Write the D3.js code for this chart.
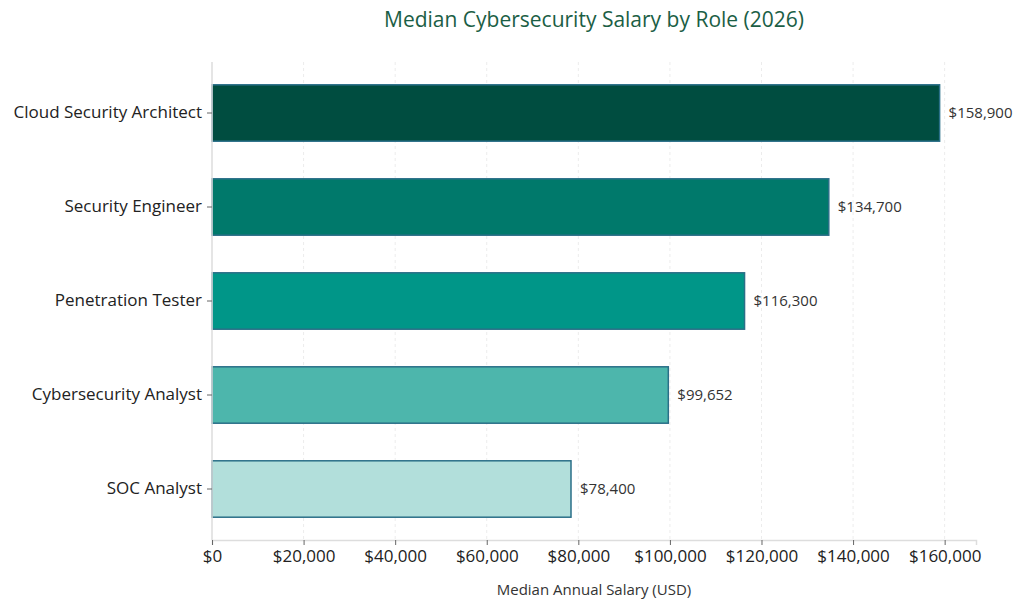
<!DOCTYPE html>
<html>
<head>
<meta charset="utf-8">
<title>Median Cybersecurity Salary by Role</title>
<style>
  body { margin: 0; background: #fff; }
  text { font-family: "Open Sans", Lato, sans-serif; }
</style>
</head>
<body>
<div id="chart"></div>
<script src="https://d3js.org/d3.v7.min.js"></script>
<script>
var roles = ["Cloud Security Architect", "Security Engineer", "Penetration Tester", "Cybersecurity Analyst", "SOC Analyst"];
var salaries = [158900, 134700, 116300, 99652, 78400];
var barColors = ["#004d40", "#00796b", "#009688", "#4db6ac", "#b2dfdb"];
var xTicks = [0, 20000, 40000, 60000, 80000, 100000, 120000, 140000, 160000];

var width = 1024, height = 609;
var margin = {top: 62, right: 48, bottom: 69, left: 212};
var font = '"Open Sans", Lato, sans-serif';

var svg = d3.select('#chart').append('svg')
  .attr('width', width)
  .attr('height', height);

var x = d3.scaleLinear()
  .domain([0, d3.max(salaries) * 1.05])
  .range([margin.left, width - margin.right]);

var y = d3.scaleBand()
  .domain(roles)
  .range([66, 536])
  .paddingInner(0.4)
  .paddingOuter(0.2);

var fmt = d3.format('$,');

// grid
svg.append('g').selectAll('line')
  .data(xTicks.slice(1))
  .enter().append('line')
  .attr('x1', function(d) { return x(d); })
  .attr('x2', function(d) { return x(d); })
  .attr('y1', margin.top)
  .attr('y2', height - margin.bottom)
  .attr('stroke', '#ececec')
  .attr('stroke-dasharray', '3,3');

// bars
svg.append('g').selectAll('rect')
  .data(roles)
  .enter().append('rect')
  .attr('x', x(0))
  .attr('y', function(d) { return y(d); })
  .attr('width', function(d, i) { return x(salaries[i]) - x(0); })
  .attr('height', y.bandwidth())
  .attr('fill', function(d, i) { return barColors[i]; })
  .attr('stroke', '#2a6f88')
  .attr('stroke-width', 1.5);

// value labels
svg.append('g').selectAll('text')
  .data(roles)
  .enter().append('text')
  .attr('x', function(d, i) { return x(salaries[i]) + 9; })
  .attr('y', function(d) { return y(d) + y.bandwidth() / 2; })
  .attr('dy', '0.35em')
  .attr('font-size', 15)
  .attr('fill', '#333')
  .text(function(d, i) { return fmt(salaries[i]); });

// x axis
var xAxis = svg.append('g')
  .attr('transform', 'translate(0,' + (height - margin.bottom) + ')')
  .call(d3.axisBottom(x).tickValues(xTicks).tickFormat(fmt).tickSize(5).tickPadding(5));
xAxis.select('.domain').attr('stroke', '#dddddd').attr('stroke-width', 1.5);
xAxis.selectAll('.tick line').attr('stroke', '#666');
xAxis.selectAll('.tick text').attr('font-size', 17).attr('fill', '#222')
  .style('font-family', font);

// y axis
var yAxis = svg.append('g')
  .attr('transform', 'translate(' + margin.left + ',0)')
  .call(d3.axisLeft(y).tickSize(5).tickPadding(5));
yAxis.select('.domain').attr('d', 'M0,' + margin.top + 'V' + (height - margin.bottom))
  .attr('stroke', '#dddddd').attr('stroke-width', 1.5);
yAxis.selectAll('.tick line').attr('stroke', '#666');
yAxis.selectAll('.tick text').attr('font-size', 17).attr('fill', '#222')
  .style('font-family', font);

// title
svg.append('text')
  .attr('x', (margin.left + width - margin.right) / 2)
  .attr('y', 27)
  .attr('text-anchor', 'middle')
  .attr('font-size', 21)
  .attr('fill', '#1b5e45')
  .text('Median Cybersecurity Salary by Role (2026)');

// axis title
svg.append('text')
  .attr('x', (margin.left + width - margin.right) / 2)
  .attr('y', 595)
  .attr('text-anchor', 'middle')
  .attr('font-size', 15)
  .attr('fill', '#333')
  .text('Median Annual Salary (USD)');
</script>
</body>
</html>
